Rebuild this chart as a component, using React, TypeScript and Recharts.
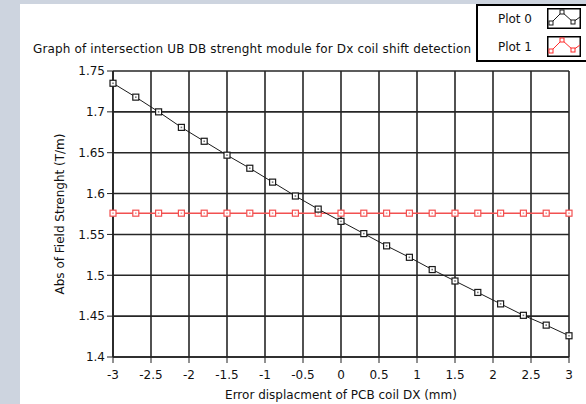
import React from 'react';
import { LineChart, Line, XAxis, YAxis, CartesianGrid } from 'recharts';

const displacement = [-3, -2.7, -2.4, -2.1, -1.8, -1.5, -1.2, -0.9, -0.6, -0.3, 0, 0.3, 0.6, 0.9, 1.2, 1.5, 1.8, 2.1, 2.4, 2.7, 3];
const plot0 = [1.735, 1.718, 1.7, 1.681, 1.664, 1.647, 1.631, 1.614, 1.597, 1.581, 1.566, 1.551, 1.536, 1.522, 1.507, 1.493, 1.479, 1.465, 1.451, 1.439, 1.426];
const plot1 = [1.576, 1.576, 1.576, 1.576, 1.576, 1.576, 1.576, 1.576, 1.576, 1.576, 1.576, 1.576, 1.576, 1.576, 1.576, 1.576, 1.576, 1.576, 1.576, 1.576, 1.576];
const xTicks = [-3, -2.5, -2, -1.5, -1, -0.5, 0, 0.5, 1, 1.5, 2, 2.5, 3];
const yTicks = [1.4, 1.45, 1.5, 1.55, 1.6, 1.65, 1.7, 1.75];
const legendNames = ['Plot 0', 'Plot 1'];

const data = displacement.map((x, i) => ({ x, p0: plot0[i], p1: plot1[i] }));

const FONT = '"DejaVu Sans", sans-serif';
const BLACK = '#1a1a1a';
const RED = '#f25050';

const squareDot = (color: string) => (props: any) => {
  const { cx, cy, index } = props;
  if (cx == null || cy == null) return <g key={index} />;
  return (
    <g key={index}>
      <rect x={cx - 3} y={cy - 3} width={6} height={6} fill="#fff" stroke={color} strokeWidth={1.2} />
      <rect x={cx - 0.8} y={cy - 0.8} width={1.6} height={1.6} fill={color} opacity={0.6} />
    </g>
  );
};

function LegendIcon({ color }: { color: string }) {
  return (
    <svg width={34} height={21} style={{ display: 'block' }}>
      <rect x={0.75} y={0.75} width={32.5} height={19.5} fill="#fff" stroke="#000" strokeWidth={1.5} />
      <polyline points="4,15 15,4 26,14 33,9" fill="none" stroke={color} strokeWidth={1} />
      <rect x={2} y={13} width={4} height={4} fill="#fff" stroke={color} />
      <rect x={13} y={2} width={4} height={4} fill="#fff" stroke={color} />
      <rect x={24} y={12} width={4} height={4} fill="#fff" stroke={color} />
    </svg>
  );
}

const legendColors = [BLACK, '#ff2a2a'];

export default function App() {
  return (
    <div style={{ position: 'absolute', left: 0, top: 0, width: 586, height: 404, background: '#cdd4df', overflow: 'hidden' }}>
      <div style={{ position: 'absolute', left: 20, top: 4, width: 566, height: 400, background: '#fff' }}>
        <div style={{ position: 'absolute', left: 13, top: 38, fontFamily: FONT, fontSize: 12, letterSpacing: 0.15, color: '#111', whiteSpace: 'nowrap' }}>
          Graph of intersection UB DB strenght module for Dx coil shift detection
        </div>
        <LineChart width={566} height={400} data={data} margin={{ top: 67, right: 17, bottom: 0, left: 0 }}>
          <CartesianGrid stroke="#262626" strokeWidth={1.6} />
          <XAxis
            dataKey="x"
            type="number"
            domain={[-3, 3]}
            ticks={xTicks}
            interval={0}
            height={47}
            tickLine={{ stroke: '#222' }}
            tickSize={6}
            tickMargin={7}
            axisLine={{ stroke: '#222', strokeWidth: 1.6 }}
            tick={{ fill: '#111', fontSize: 12, fontFamily: FONT }}
            label={{ value: 'Error displacment of PCB coil DX (mm)', position: 'insideBottom', offset: 5, fill: '#111', fontSize: 12, fontFamily: FONT }}
          />
          <YAxis
            type="number"
            domain={[1.4, 1.75]}
            ticks={yTicks}
            interval={0}
            width={93}
            tickLine={{ stroke: '#222' }}
            tickSize={6}
            tickMargin={2}
            axisLine={{ stroke: '#222', strokeWidth: 1.6 }}
            tick={{ fill: '#111', fontSize: 12, fontFamily: FONT }}
            label={{ value: 'Abs of Field Strenght (T/m)', angle: -90, position: 'insideLeft', offset: 40, style: { textAnchor: 'middle' }, fill: '#111', fontSize: 12, fontFamily: FONT }}
          />
          <Line dataKey="p1" stroke={RED} strokeWidth={1.5} dot={squareDot(RED)} isAnimationActive={false} />
          <Line dataKey="p0" stroke={BLACK} strokeWidth={1} dot={squareDot(BLACK)} isAnimationActive={false} />
        </LineChart>
        <div style={{ position: 'absolute', left: 456, top: 0, width: 120, height: 54, border: '2px solid #000', background: '#fff', fontFamily: FONT, fontSize: 12, color: '#111' }}>
          {legendNames.map((name, i) => (
            <div key={name} style={{ position: 'absolute', left: 0, top: 2 + i * 28, height: 21, display: 'flex', alignItems: 'center' }}>
              <span style={{ width: 54, textAlign: 'right' }}>{name}</span>
              <span style={{ marginLeft: 15 }}><LegendIcon color={legendColors[i]} /></span>
            </div>
          ))}
        </div>
      </div>
    </div>
  );
}
